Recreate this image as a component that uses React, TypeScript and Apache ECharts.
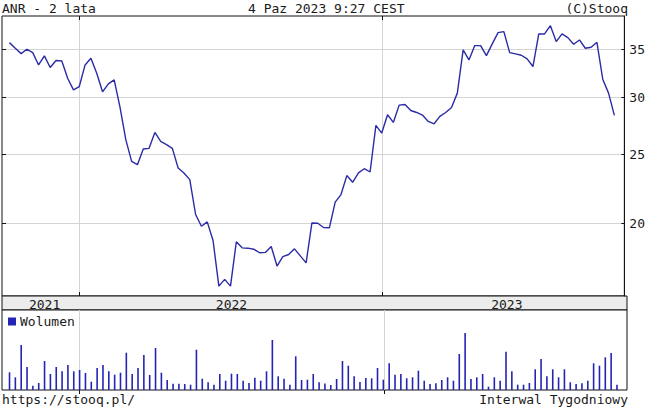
import React, { useEffect, useRef } from "react";
import * as echarts from "echarts";

const FONT = '"DejaVu Sans Mono", "Liberation Mono", monospace';
const DAY = 86400000;

// weekly closes (PLN), first week ending 2021-10-09
const firstWeek = "2021-10-09";
const prices = [
  35.75, 35.11, 34.51, 35.0, 34.62, 33.28, 34.26, 33.0, 33.75, 33.71,
  31.89, 30.72, 31.05, 33.28, 34.0, 32.41, 30.53, 31.32, 31.72, 29.06,
  26.18, 24.42, 24.16, 25.41, 25.46, 26.8, 26.04, 25.76, 25.46, 23.91,
  23.53, 23.03, 20.59, 19.83, 20.11, 18.94, 16.36, 16.72, 16.36, 18.86,
  18.5, 18.48, 18.42, 18.21, 18.23, 18.58, 17.45, 17.98, 18.11, 18.44,
  18.03, 17.63, 20.04, 20.02, 19.75, 19.73, 21.42, 21.95, 23.33, 22.83,
  23.53, 23.85, 23.6, 27.41, 26.74, 28.36, 27.67, 29.25, 29.31, 28.75,
  28.57, 28.33, 27.76, 27.55, 28.21, 28.57, 29.03, 30.4, 34.92, 33.82,
  35.41, 35.41, 34.29, 35.6, 36.92, 37.03, 34.62, 34.48, 34.33, 33.93,
  33.11, 36.76, 36.76, 37.75, 35.87, 36.76, 36.33, 35.56, 36.06, 35.11,
  35.22, 35.79, 31.79, 30.4, 28.3,
];

// weekly volume (thousand shares)
const volumes = [
  177, 127, 450, 230, 43, 70, 290, 160, 230, 187,
  250, 187, 200, 170, 83, 220, 250, 187, 153, 173,
  373, 160, 220, 350, 150, 420, 173, 100, 63, 63,
  60, 53, 403, 113, 77, 53, 160, 93, 163, 160,
  93, 70, 123, 93, 187, 500, 137, 113, 53, 337,
  100, 103, 160, 77, 65, 50, 110, 290, 243, 137,
  80, 120, 117, 220, 103, 267, 153, 160, 117, 127,
  193, 93, 60, 67, 100, 127, 93, 360, 570, 110,
  127, 160, 33, 127, 93, 383, 187, 53, 53, 70,
  207, 310, 137, 207, 127, 207, 77, 60, 67, 93,
  267, 243, 327, 370, 53,
];

const yTicks = [20, 25, 30, 35];
const yearStarts = ["2022-01-01", "2023-01-01"];
const yearLabels = ["2021", "2022", "2023"];
const yearLabelDates = ["2021-11-20", "2022-07-02", "2023-05-28"];

const headerLeft = "ANR - 2 lata";
const headerCenter = "4 Paz 2023 9:27 CEST";
const headerRight = "(C)Stooq";
const footerLeft = "https://stooq.pl/";
const footerRight = "Interwal Tygodniowy";
const volumeName = "Wolumen";

const ts = (s: string) => Date.parse(s + "T00:00:00Z");

export default function App() {
  const ref = useRef<HTMLDivElement>(null);

  useEffect(() => {
    if (!ref.current) return;
    const chart = echarts.init(ref.current, undefined, { renderer: "svg" });

    const start = ts(firstWeek);
    const dates = prices.map((_, i) => start + i * 7 * DAY);
    const yearTickVals = yearStarts.map(ts);
    const yearLabelVals = yearLabelDates.map(ts);
    const xMin = Date.UTC(2021, 8, 30);
    const xMax = Date.UTC(2023, 9, 19);

    const txt = { fontFamily: FONT, fontSize: 13, fontWeight: "normal" as const, color: "#1a1a1a" };
    const font = `13px ${FONT}`;
    const gridLineColor = "#d4d4d4";

    const baseX = {
      type: "value" as const,
      min: xMin,
      max: xMax,
      scale: true,
      axisLine: { show: false },
      axisLabel: { show: false },
      splitLine: { show: false },
      axisTick: { show: false },
    };

    const textEl = (text: string, x: number, y: number, align: string) => ({
      type: "text",
      x,
      y,
      silent: true,
      style: { text, font, fill: "#1a1a1a", align, verticalAlign: "middle" },
    });

    chart.setOption({
      animation: false,
      backgroundColor: "#ffffff",
      textStyle: { fontFamily: FONT },
      graphic: [
        textEl(headerLeft, 2, 8, "left"),
        textEl(headerCenter, 248, 8, "left"),
        textEl(headerRight, 628, 8, "right"),
        textEl(footerLeft, 2, 399, "left"),
        textEl(footerRight, 628, 399, "right"),
      ],
      legend: {
        data: [volumeName],
        left: 8,
        top: 315,
        padding: 0,
        icon: "rect",
        itemWidth: 8,
        itemHeight: 8,
        textStyle: { ...txt, padding: [0, 0, 0, -1] },
      },
      grid: [
        { left: 2, right: 21, top: 16, height: 280, show: true, borderColor: "#111", borderWidth: 1, backgroundColor: "#fff" },
        { left: 2, right: 21, top: 296, height: 14, show: true, borderColor: "#111", borderWidth: 1, backgroundColor: "#ececec" },
        { left: 2, right: 21, top: 310, height: 80, show: true, borderColor: "#111", borderWidth: 1, backgroundColor: "#fff" },
      ],
      xAxis: [
        {
          ...baseX,
          gridIndex: 0,
          position: "bottom",
          axisTick: { show: true, inside: true, length: 4, customValues: yearTickVals, lineStyle: { color: "#111" } },
          splitLine: { show: true, lineStyle: { color: gridLineColor, width: 1 } },
        },
        {
          ...baseX,
          gridIndex: 0,
          position: "top",
          axisTick: { show: true, inside: true, length: 4, customValues: yearTickVals, lineStyle: { color: "#111" } },
        },
        {
          ...baseX,
          gridIndex: 1,
          position: "bottom",
          axisLabel: {
            show: true,
            inside: true,
            margin: 6,
            verticalAlign: "middle",
            customValues: yearLabelVals,
            formatter: (v: number) => {
              const i = yearLabelVals.indexOf(v);
              return i >= 0 ? yearLabels[i] : String(new Date(v).getUTCFullYear());
            },
            ...txt,
          },
        },
        {
          ...baseX,
          gridIndex: 2,
          position: "top",
          axisTick: { show: true, inside: true, length: 4, customValues: yearTickVals, lineStyle: { color: "#111" } },
          splitLine: { show: true, lineStyle: { color: gridLineColor, width: 1 } },
        },
      ],
      yAxis: [
        {
          type: "log",
          gridIndex: 0,
          position: "right",
          min: 15.85,
          max: 38.94,
          axisLine: { show: true, lineStyle: { color: "#111" } },
          axisTick: { show: true, inside: true, length: 3, customValues: yTicks, lineStyle: { color: "#111" } },
          axisLabel: { show: true, margin: 5, customValues: yTicks, ...txt },
          splitLine: { show: true, lineStyle: { color: gridLineColor, width: 1 } },
        },
        {
          type: "log",
          gridIndex: 0,
          position: "left",
          min: 15.85,
          max: 38.94,
          axisLine: { show: false },
          axisTick: { show: true, inside: true, length: 4, customValues: yTicks, lineStyle: { color: "#111" } },
          axisLabel: { show: false },
          splitLine: { show: false },
        },
        { type: "value", gridIndex: 1, min: 0, max: 1, show: false },
        { type: "value", gridIndex: 2, min: 0, max: 800, show: false },
      ],
      series: [
        {
          type: "line",
          name: "ANR",
          xAxisIndex: 0,
          yAxisIndex: 0,
          data: dates.map((d, i) => [d, prices[i]]),
          showSymbol: false,
          symbol: "none",
          lineStyle: { color: "#2b2ba8", width: 1.4 },
          itemStyle: { color: "#2b2ba8" },
        },
        {
          type: "bar",
          name: volumeName,
          xAxisIndex: 3,
          yAxisIndex: 3,
          data: dates.map((d, i) => [d, volumes[i]]),
          barWidth: 1.6,
          itemStyle: { color: "#2424b4" },
        },
      ],
    });

    return () => chart.dispose();
  }, []);

  return (
    <div
      ref={ref}
      style={{ position: "absolute", left: 0, top: 0, width: 648, height: 410 }}
    />
  );
}
